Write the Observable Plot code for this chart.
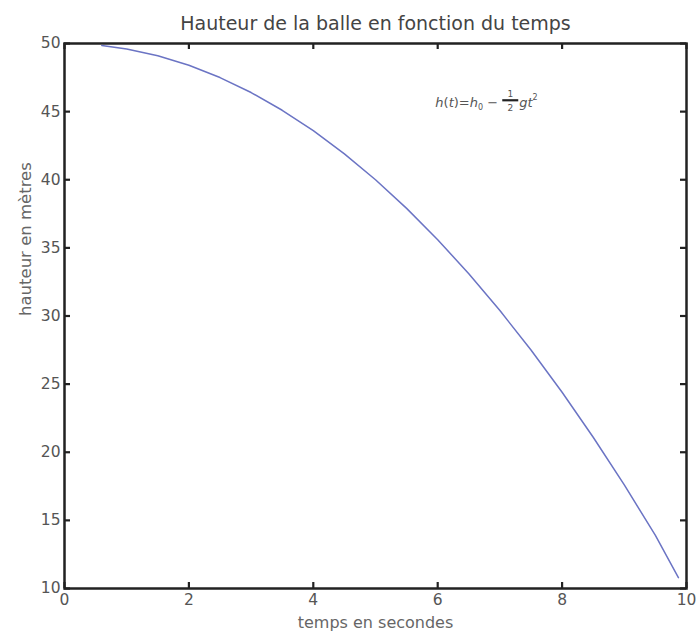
<!DOCTYPE html>
<html>
<head>
<meta charset="utf-8">
<script src="https://cdn.jsdelivr.net/npm/d3@7"></script>
<script src="https://cdn.jsdelivr.net/npm/@observablehq/plot@0.6"></script>
<style>
  html, body { margin: 0; padding: 0; background: #fff; }
  svg { font-family: "DejaVu Sans", sans-serif; }
</style>
</head>
<body>
<div id="chart"></div>
<script>
const times = [0.6, 1, 1.5, 2, 2.5, 3, 3.5, 4, 4.5, 5, 5.5, 6, 6.5, 7, 7.5, 8, 8.5, 9, 9.5, 9.87];
const heights = [49.86, 49.6, 49.1, 48.4, 47.5, 46.4, 45.1, 43.6, 41.9, 40.0, 37.9, 35.6, 33.1, 30.4, 27.5, 24.4, 21.1, 17.6, 13.9, 10.8];
const xTicks = [0, 2, 4, 6, 8, 10];
const yTicks = [10, 15, 20, 25, 30, 35, 40, 45, 50];
const title = "Hauteur de la balle en fonction du temps";
const xLabel = "temps en secondes";
const yLabel = "hauteur en mètres";

const data = times.map((t, i) => ({t, h: heights[i]}));

const W = 698, H = 632, mL = 64, mR = 12, mT = 43, mB = 44;
const tickLen = 6;

const plot = Plot.plot({
  width: W,
  height: H,
  marginLeft: mL,
  marginRight: mR,
  marginTop: mT,
  marginBottom: mB,
  style: {fontFamily: "DejaVu Sans, sans-serif", color: "#333"},
  x: {domain: [0, 10]},
  y: {domain: [10, 50]},
  marks: [
    Plot.axisX(xTicks, {anchor: "bottom", tickSize: 0, tickPadding: 5, label: null, fontSize: 15.5, fill: "#555"}),
    Plot.axisY(yTicks, {anchor: "left", tickSize: 0, tickPadding: 4, label: null, fontSize: 15.5, fill: "#555"}),
    Plot.ruleX(xTicks, {x: d => d, insetTop: H - mT - mB - tickLen, stroke: "#222", strokeWidth: 2.2}),
    Plot.ruleX(xTicks, {x: d => d, insetBottom: H - mT - mB - tickLen, stroke: "#222", strokeWidth: 2.2}),
    Plot.ruleY(yTicks, {y: d => d, insetRight: W - mL - mR - tickLen, stroke: "#222", strokeWidth: 2.2}),
    Plot.ruleY(yTicks, {y: d => d, insetLeft: W - mL - mR - tickLen, stroke: "#222", strokeWidth: 2.2}),
    Plot.frame({stroke: "#222", strokeWidth: 2.5}),
    Plot.line(data, {x: "t", y: "h", stroke: "#6b74c4", strokeWidth: 1.5}),
    Plot.text([title], {frameAnchor: "top", dy: -27, fontSize: 19, fill: "#444"}),
    Plot.text([xLabel], {frameAnchor: "bottom", dy: 39, fontSize: 16, fill: "#666"}),
    Plot.text([yLabel], {frameAnchor: "left", dx: -39, rotate: -90, fontSize: 16.5, fill: "#666"})
  ]
});

document.getElementById("chart").appendChild(plot);

const sx = plot.scale("x"), sy = plot.scale("y");
const svg = d3.select(plot);

// formula annotation, placed in data coordinates
const ax = sx.apply(5.97), ay = sy.apply(45.65);
const g = svg.append("g")
  .attr("transform", `translate(${ax},${ay})`)
  .attr("fill", "#555")
  .attr("text-anchor", "start")
  .attr("font-family", "DejaVu Sans, sans-serif")
  .attr("font-size", 13);
const t1 = g.append("text").attr("x", 0).attr("y", 5);
t1.append("tspan").attr("font-style", "italic").text("h");
t1.append("tspan").text("(");
t1.append("tspan").attr("font-style", "italic").text("t");
t1.append("tspan").text(")=");
t1.append("tspan").attr("font-style", "italic").text("h");
t1.append("tspan").attr("font-size", 8).attr("dy", 3).text("0");
t1.append("tspan").attr("dy", -3).text(" − ");
const fx = t1.node().getComputedTextLength();
const fw = 16;
g.append("text").attr("x", fx + fw / 2).attr("y", -5).attr("font-size", 9).attr("text-anchor", "middle").text("1");
g.append("line").attr("x1", fx).attr("x2", fx + fw).attr("y1", -2).attr("y2", -2).attr("stroke", "#222").attr("stroke-width", 2.2);
g.append("text").attr("x", fx + fw / 2).attr("y", 9).attr("font-size", 9).attr("text-anchor", "middle").text("2");
const t2 = g.append("text").attr("x", fx + fw + 1).attr("y", 5);
t2.append("tspan").attr("font-style", "italic").text("gt");
t2.append("tspan").attr("font-size", 8).attr("dy", -7).text("2");
</script>
</body>
</html>
